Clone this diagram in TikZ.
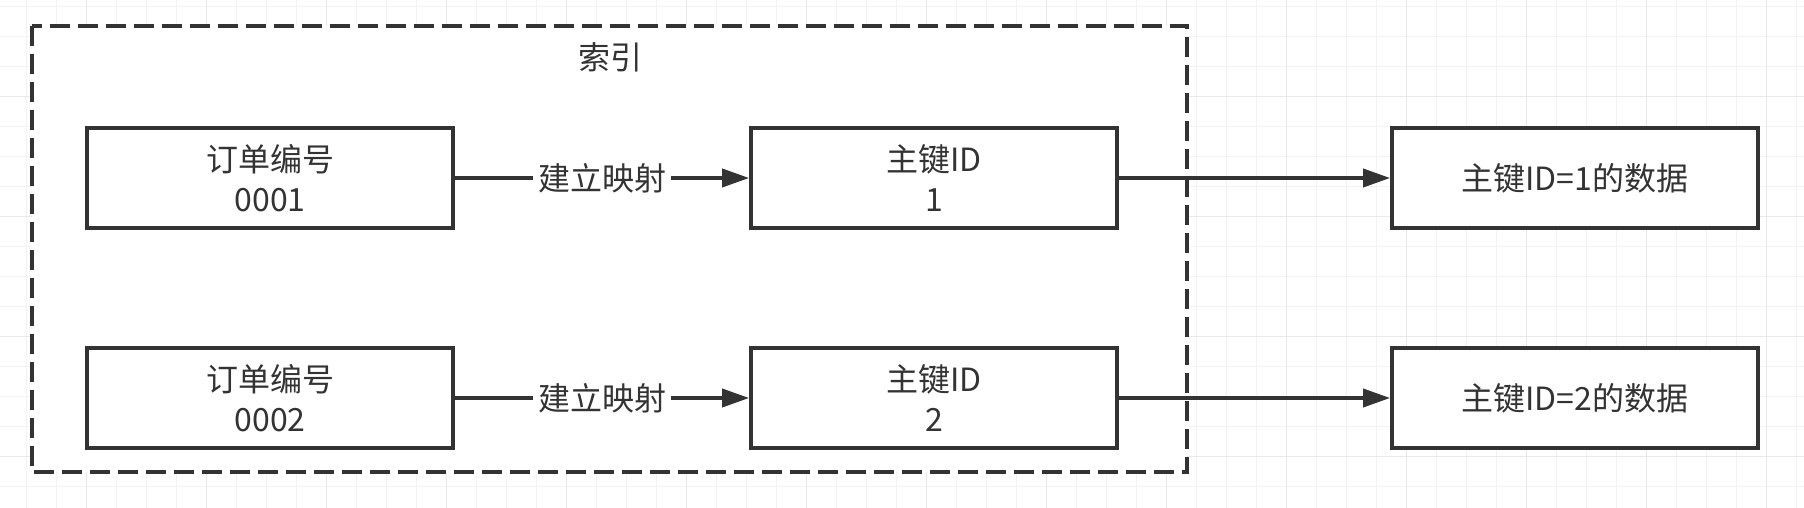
\documentclass[tikz,border=0pt]{standalone}
\usepackage{fontspec}
\setmainfont{Noto Sans CJK SC}
\usepackage{xcolor}
\usepackage{tikz}
\definecolor{inkgray}{RGB}{51, 51, 51}
\definecolor{gridminor}{RGB}{243, 243, 243}
\definecolor{gridmajor}{RGB}{233, 233, 233}
\usetikzlibrary{arrows.meta, positioning}

\begin{document}
\begin{tikzpicture}[
    x=0.5pt, y=-0.5pt,
    every node/.style={font=\fontsize{16}{20}\selectfont, text=inkgray},
    record/.style={rectangle, draw=inkgray, fill=white, line width=1.9pt, minimum width=183pt, minimum height=50pt, align=center, inner sep=0pt},
    indexbox/.style={draw=inkgray, fill=white, line width=1.9pt, dash pattern=on 10pt off 4pt},
    link/.style={draw=inkgray, line width=1.9pt, -{Triangle[length=13.5pt, width=9pt]}},
    maplabel/.style={fill=white, inner sep=2.5pt}
]
    \useasboundingbox (0,0) rectangle (1804,508);
    \fill[white] (0,0) rectangle (1804,508);

    % background grid
    \foreach \gx in {26.5, 56.5, ..., 1800} \draw[gridminor, line width=0.6pt] (\gx,0) -- (\gx,508);
    \foreach \gy in {6.7, 36.7, ..., 508} \draw[gridminor, line width=0.6pt] (0,\gy) -- (1804,\gy);
    \foreach \gx in {86.5, 206.5, ..., 1800} \draw[gridmajor, line width=0.6pt] (\gx,0) -- (\gx,508);
    \foreach \gy in {96.7, 216.7, ..., 508} \draw[gridmajor, line width=0.6pt] (0,\gy) -- (1804,\gy);

    % index container
    \draw[indexbox] (32,26) rectangle (1187,472);
    \node (title) at (610,57) {索引};

    \node[record] (k1) at (270,178) {订单编号\\0001};
    \node[record] (p1) at (934,178) {主键ID\\1};
    \node[record] (d1) at (1575,178) {主键ID=1的数据};

    \node[record] (k2) at (270,398) {订单编号\\0002};
    \node[record] (p2) at (934,398) {主键ID\\2};
    \node[record] (d2) at (1575,398) {主键ID=2的数据};

    \draw[link] (k1) -- node[maplabel] {建立映射} (p1);
    \draw[link] (k2) -- node[maplabel] {建立映射} (p2);
    \draw[link] (p1) -- (d1);
    \draw[link] (p2) -- (d2);
\end{tikzpicture}
\end{document}
